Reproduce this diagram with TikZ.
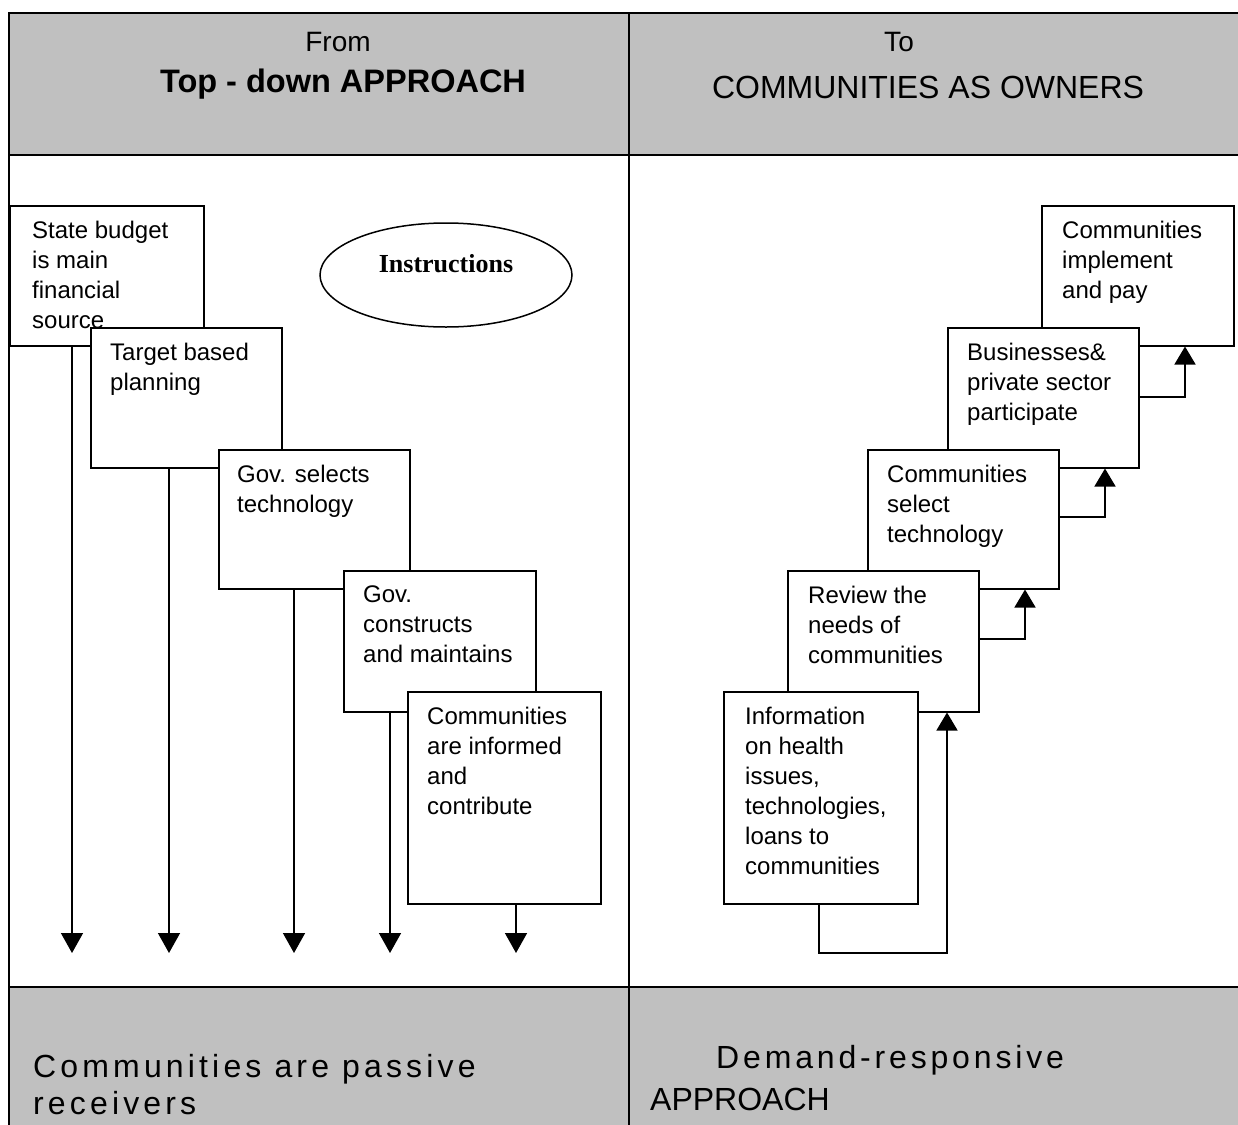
\documentclass[tikz,border=0pt]{standalone}
\usepackage{fontspec}
\setmainfont{Liberation Sans}
\newfontfamily\serifb{Liberation Serif}
\newfontfamily\spacedL[LetterSpace=13]{Liberation Sans}
\newfontfamily\spacedR[LetterSpace=12]{Liberation Sans}
\usetikzlibrary{arrows.meta,shapes.geometric}
\definecolor{band}{RGB}{192,192,192}
\begin{document}
\begin{tikzpicture}[x=1pt,y=-1pt,
  box/.style={draw, line width=1.5pt, fill=white, anchor=north west, inner sep=0pt},
  txt/.style={anchor=north west, inner sep=0pt, align=left, font=\fontsize{24}{30}\selectfont},
  arr/.style={line width=1.5pt, -{Triangle[width=22pt,length=20pt]}},
  rarr/.style={line width=1.5pt, -{Triangle[width=21pt,length=18pt]}},
  frameline/.style={line width=1.5pt},
  bottxt/.style={anchor=base west, inner sep=0pt}]
\useasboundingbox (0,0) rectangle (1238,1124);
% bands
\fill[band] (9,13) rectangle (1245,155);
\fill[band] (9,987) rectangle (1245,1130);
\draw[frameline] (1245,13) -- (9,13) -- (9,1130);
\draw[frameline] (9,155) -- (1245,155);
\draw[frameline] (9,987) -- (1245,987);
\draw[frameline] (629,13) -- (629,1130);
% headers
\node[font=\fontsize{28}{30}\selectfont] (from) at (338,42) {From};
\node[font=\bfseries\fontsize{32.5}{36}\selectfont] (tdh) at (343,84) {Top - down APPROACH};
\node[font=\fontsize{28}{30}\selectfont] (to) at (899,42) {To};
\node[font=\fontsize{32}{36}\selectfont] (cao) at (928,87) {COMMUNITIES AS OWNERS};
% left boxes
\node[box, minimum width=194pt, minimum height=140pt] (l1) at (9,205) {};
\node[txt] (lt1) at ([shift={(23,16)}]l1.north west) {State budget\\is main\\financial\\source};
\node[box, minimum width=191pt, minimum height=140pt] (l2) at (90,327) {};
\node[txt] (lt2) at ([shift={(20,16)}]l2.north west) {Target based\\planning};
\node[box, minimum width=191pt, minimum height=139pt] (l3) at (218,449) {};
\node[txt] (lt3) at ([shift={(19,16)}]l3.north west) {Gov. selects\\technology};
\node[box, minimum width=192pt, minimum height=141pt] (l4) at (343,570) {};
\node[txt] (lt4) at ([shift={(20,16)}]l4.north west) {Gov.\\constructs\\and maintains};
\node[box, minimum width=193pt, minimum height=212pt] (l5) at (407,691) {};
\node[txt] (lt5) at ([shift={(20,16)}]l5.north west) {Communities\\are informed\\and\\contribute};
% ellipse
\node[draw, ellipse, line width=1.5pt, minimum width=252pt, minimum height=104pt,
      inner sep=0pt, text height=17pt, text depth=22pt,
      font=\serifb\bfseries\fontsize{26}{30}\selectfont] (ins) at (446,275) {Instructions};
% left arrows
\coordinate (a1) at (72,953);
\coordinate (a2) at (169,953);
\coordinate (a3) at (294,953);
\coordinate (a4) at (390,953);
\coordinate (a5) at (516,953);
\draw[arr] (l1.south -| a1) -- (a1);
\draw[arr] (l2.south -| a2) -- (a2);
\draw[arr] (l3.south -| a3) -- (a3);
\draw[arr] (l4.south -| a4) -- (a4);
\draw[arr] (l5.south -| a5) -- (a5);
% right boxes
\node[box, minimum width=192pt, minimum height=140pt] (rA) at (1041,205) {};
\node[txt] (rtA) at ([shift={(21,16)}]rA.north west) {Communities\\implement\\and pay};
\node[box, minimum width=191pt, minimum height=140pt] (rB) at (947,327) {};
\node[txt] (rtB) at ([shift={(20,16)}]rB.north west) {Businesses\&\\private sector\\participate};
\node[box, minimum width=191pt, minimum height=139pt] (rC) at (867,449) {};
\node[txt] (rtC) at ([shift={(20,16)}]rC.north west) {Communities\\select\\technology};
\node[box, minimum width=191pt, minimum height=141pt] (rD) at (787,570) {};
\node[txt] (rtD) at ([shift={(21,16)}]rD.north west) {Review the\\needs of\\communities};
\node[box, minimum width=194pt, minimum height=212pt] (rE) at (723,691) {};
\node[txt] (rtE) at ([shift={(22,16)}]rE.north west) {Information\\on health\\issues,\\technologies,\\loans to\\communities};
% right connectors
\coordinate (kBA) at (1185,397);
\coordinate (kCB) at (1105,517);
\coordinate (kDC) at (1025,639);
\coordinate (kE1) at (819,953);
\coordinate (kE2) at (947,953);
\draw[rarr] (rB.east |- kBA) -- (kBA) -- (kBA |- rA.south);
\draw[rarr] (rC.east |- kCB) -- (kCB) -- (kCB |- rB.south);
\draw[rarr] (rD.east |- kDC) -- (kDC) -- (kDC |- rC.south);
\draw[rarr] (rE.south -| kE1) -- (kE1) -- (kE2) -- (kE2 |- rD.south);
% bottom texts
\begin{scope}
\clip (9,987) rectangle (1245,1116);
\node[bottxt, font=\spacedL\fontsize{32}{36}\selectfont] (bl1) at (33,1077) {Communities are passive};
\node[bottxt, font=\spacedL\fontsize{32}{36}\selectfont] (bl2) at (33,1114) {receivers};
\node[bottxt, font=\spacedR\fontsize{32}{36}\selectfont] (br1) at (716,1068) {Demand-responsive};
\node[bottxt, font=\fontsize{32}{36}\selectfont] (br2) at (650,1110) {APPROACH};
\end{scope}
\end{tikzpicture}
\end{document}
